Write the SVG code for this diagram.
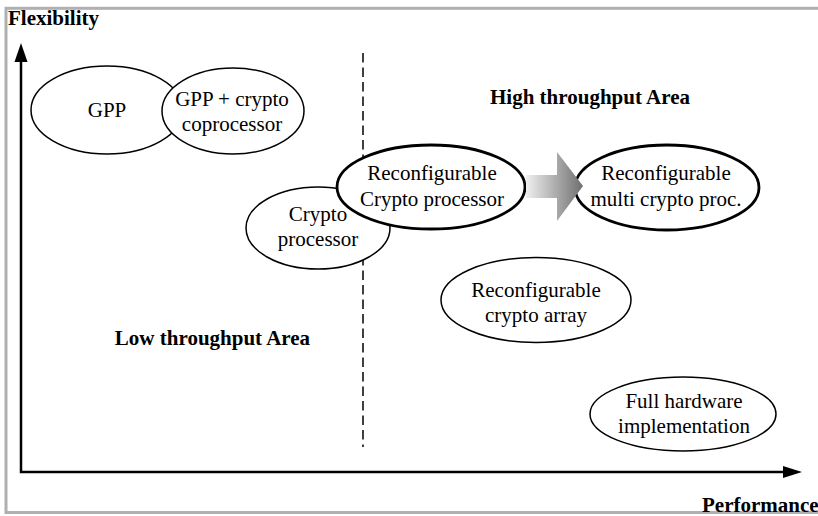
<svg xmlns="http://www.w3.org/2000/svg" width="818" height="516" viewBox="0 0 818 516">
<style>
.node{fill:#fff;stroke:#000;stroke-width:1.5}
.thick{stroke-width:2.8}
.t{font-family:"Liberation Serif","Times New Roman",serif;font-size:21px;fill:#000;text-anchor:middle}
.b{font-family:"Liberation Serif","Times New Roman",serif;font-size:21px;font-weight:bold;fill:#000}
.axis{stroke:#000;stroke-width:2.5;fill:none}
</style>
<defs>
<linearGradient id="ag" gradientUnits="userSpaceOnUse" x1="525" y1="0" x2="583" y2="0">
<stop offset="0" stop-color="#f2f2f2"/>
<stop offset="1" stop-color="#6e6e6e"/>
</linearGradient>
</defs>
<rect x="0" y="0" width="818" height="516" fill="#fff"/>
<rect x="6" y="8.3" width="830" height="504.2" fill="none" stroke="#b0b0b0" stroke-width="3"/>
<g id="labels">
<text class="b" x="8" y="25">Flexibility</text>
<text class="b" x="702" y="512">Performance</text>
<text class="b" x="590" y="104" text-anchor="middle">High throughput Area</text>
<text class="b" x="212.5" y="345" text-anchor="middle">Low throughput Area</text>
</g>
<g id="connectors">
<line x1="363" y1="53" x2="363" y2="447" stroke="#000" stroke-width="1.5" stroke-dasharray="9.5 5"/>
<polyline class="axis" points="21,60 21,472 785,472"/>
<polygon points="21,43 14.5,62 27.5,62" fill="#000"/>
<polygon points="802,472 783,466 783,478" fill="#000"/>
</g>
<g id="gpp">
<ellipse class="node" cx="107" cy="110" rx="76" ry="44"/>
<text class="t" x="107" y="117">GPP</text>
</g>
<g id="gpp-coproc">
<ellipse class="node" cx="233" cy="111" rx="71" ry="43"/>
<text class="t" x="232" y="106">GPP + crypto</text>
<text class="t" x="232" y="131">coprocessor</text>
</g>
<g id="crypto-proc">
<ellipse class="node" cx="318" cy="228" rx="72" ry="41"/>
<text class="t" x="318" y="221">Crypto</text>
<text class="t" x="318" y="246">processor</text>
</g>
<g id="reconf-crypto-proc">
<ellipse class="node thick" cx="431" cy="187" rx="94" ry="42"/>
<text class="t" x="432" y="180">Reconfigurable</text>
<text class="t" x="432" y="206">Crypto processor</text>
</g>
<g id="reconf-multi">
<ellipse class="node thick" cx="667" cy="187.5" rx="92" ry="42.5"/>
<text class="t" x="666" y="180">Reconfigurable</text>
<text class="t" x="666" y="206">multi crypto proc.</text>
</g>
<g id="evolution-arrow">
<polygon points="526,175 557,175 557,152 583,186 557,221 557,198 526,198" fill="url(#ag)"/>
</g>
<g id="reconf-array">
<ellipse class="node" cx="536" cy="300" rx="95" ry="42.5"/>
<text class="t" x="536" y="297">Reconfigurable</text>
<text class="t" x="536" y="322">crypto array</text>
</g>
<g id="full-hw">
<ellipse class="node" cx="683" cy="414" rx="93" ry="37"/>
<text class="t" x="684" y="408">Full hardware</text>
<text class="t" x="684" y="433">implementation</text>
</g>
</svg>
